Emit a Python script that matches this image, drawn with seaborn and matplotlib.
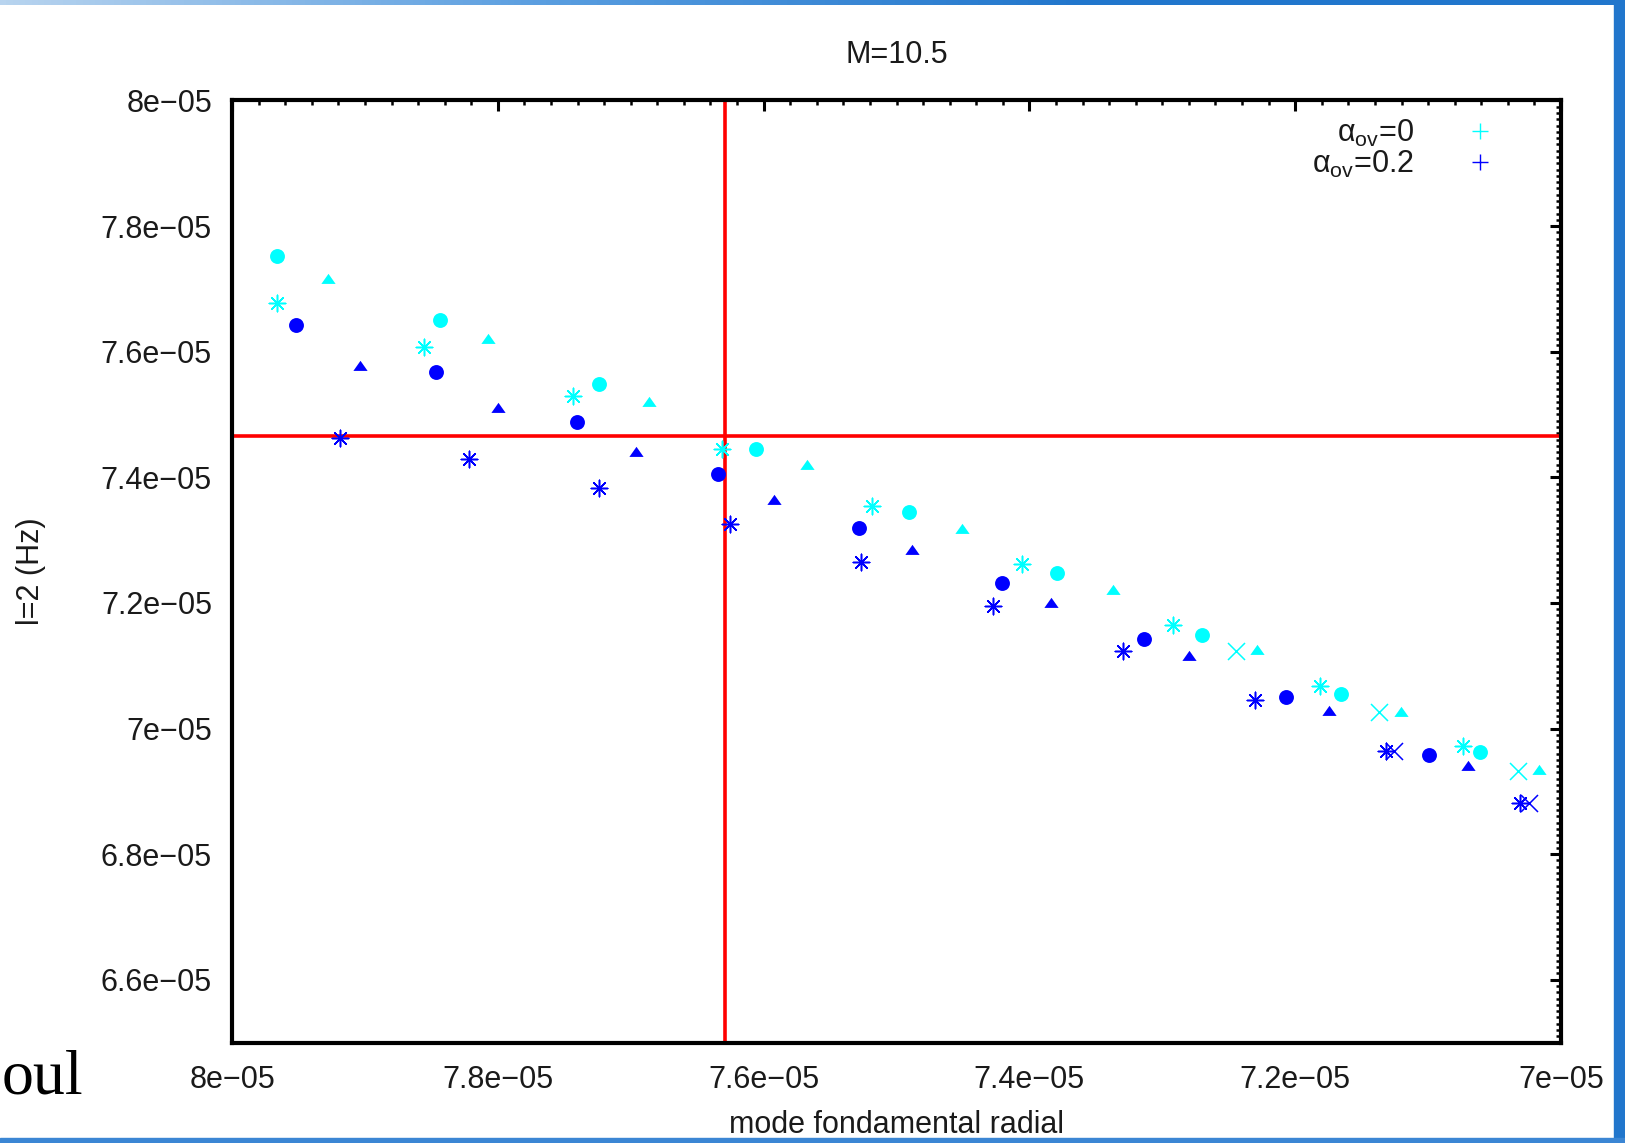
import numpy as np
import pandas as pd
import matplotlib
matplotlib.use("Agg")
import matplotlib.pyplot as plt
import seaborn as sns
from matplotlib.lines import Line2D
from matplotlib.patches import Rectangle
from matplotlib.colors import LinearSegmentedColormap
from matplotlib.ticker import MultipleLocator, FuncFormatter

##############################################
### DATA (frequencies in units of 1e-05 Hz) ##
##############################################

# alpha_ov = 0 (cyan)
cyan_circle_x = [7.9665, 7.8433, 7.7241, 7.6056, 7.4903, 7.3796, 7.2705, 7.1652, 7.0608]
cyan_circle_y = [7.7526, 7.6504, 7.5482, 7.4449, 7.3447, 7.2480, 7.1494, 7.0551, 6.9619]
cyan_tri_x = [7.9275, 7.8075, 7.6859, 7.5674, 7.4508, 7.3373, 7.2284, 7.1203, 7.0164]
cyan_tri_y = [7.7164, 7.6207, 7.5201, 7.4189, 7.3181, 7.2200, 7.1243, 7.0259, 6.9335]
cyan_ast_x = [7.9665, 7.8558, 7.7436, 7.6310, 7.5185, 7.4055, 7.2921, 7.1811, 7.0740]
cyan_ast_y = [7.6768, 7.6075, 7.5300, 7.4449, 7.3547, 7.2625, 7.1656, 7.0683, 6.9726]
cyan_cross_x = [7.2447, 7.1366, 7.0327]
cyan_cross_y = [7.1227, 7.0259, 6.9319]

# alpha_ov = 0.2 (blue)
blue_circle_x = [7.9517, 7.8465, 7.7405, 7.6345, 7.5284, 7.4209, 7.3141, 7.2069, 7.0990]
blue_circle_y = [7.6422, 7.5679, 7.4888, 7.4057, 7.3198, 7.2315, 7.1425, 7.0503, 6.9584]
blue_tri_x = [7.9034, 7.7997, 7.6960, 7.5924, 7.4887, 7.3841, 7.2798, 7.1748, 7.0702]
blue_tri_y = [7.5778, 7.5102, 7.4410, 7.3631, 7.2836, 7.1999, 7.1149, 7.0274, 6.9400]
blue_ast_x = [7.9189, 7.8215, 7.7241, 7.6256, 7.5267, 7.4275, 7.3292, 7.2299, 7.1317, 7.0312]
blue_ast_y = [7.4624, 7.4294, 7.3832, 7.3262, 7.2645, 7.1946, 7.1228, 7.0450, 6.9644, 6.8819]
blue_cross_x = [7.1255, 7.0242]
blue_cross_y = [6.9644, 6.8819]

# observed frequencies (red lines)
obs_radial = 7.629
obs_l2 = 7.4655

legend_labels = ["\u03b1$_{\\mathrm{ov}}$=0", "\u03b1$_{\\mathrm{ov}}$=0.2"]

##############################################
### BUILD TABLE ##############################
##############################################

series = [
    (0.0, "circle", cyan_circle_x, cyan_circle_y),
    (0.0, "triangle", cyan_tri_x, cyan_tri_y),
    (0.0, "asterisk", cyan_ast_x, cyan_ast_y),
    (0.0, "cross", cyan_cross_x, cyan_cross_y),
    (0.2, "circle", blue_circle_x, blue_circle_y),
    (0.2, "triangle", blue_tri_x, blue_tri_y),
    (0.2, "asterisk", blue_ast_x, blue_ast_y),
    (0.2, "cross", blue_cross_x, blue_cross_y),
]
rows = []
for a, kind, xs, ys in series:
    for xv, yv in zip(xs, ys):
        rows.append({"alpha_ov": a, "kind": kind, "radial": xv, "l2": yv})
df = pd.DataFrame(rows)

colors = {0.0: "#00ffff", 0.2: "#0000ff"}
markers = {
    "circle": ("o", 115, 0),
    "triangle": ([(-1, -0.62), (1, -0.62), (0, 0.8)], 105, 0),
    "asterisk": ((8, 2, 0), 140, 1.1),
    "cross": ("x", 150, 1.1),
}

##############################################
### PLOT #####################################
##############################################

sns.set_style("white")
plt.rcParams["font.family"] = ["Liberation Sans", "DejaVu Sans"]
plt.rcParams["mathtext.fontset"] = "custom"
plt.rcParams["mathtext.rm"] = "Liberation Sans"
plt.rcParams["mathtext.it"] = "Liberation Sans:italic"

fs = 22
txt = "#1a1a1a"
fig = plt.figure(figsize=(16.25, 11.43), dpi=100)
fig.patch.set_facecolor("white")
ax = fig.add_axes([0.1428, 0.0879, 0.8178, 0.8242])

for (a, kind), g in df.groupby(["alpha_ov", "kind"]):
    m, s, lw = markers[kind]
    if kind in ("circle", "triangle"):
        sns.scatterplot(data=g, x="radial", y="l2", marker=m, s=s, color=colors[a],
                        edgecolor=colors[a], linewidth=0, ax=ax, legend=False, zorder=3)
    else:
        ax.scatter(g["radial"], g["l2"], marker=m, s=s, color=colors[a],
                   linewidths=lw, zorder=3)

ax.axvline(obs_radial, color="#ff0000", lw=2.6, zorder=2)
ax.axhline(obs_l2, color="#ff0000", lw=2.6, zorder=2)

ax.set_xlim(8.0, 7.0)
ax.set_ylim(6.5, 8.0)

fmt = FuncFormatter(lambda v, p: f"{round(v, 3):g}e\u221205")
ax.xaxis.set_major_locator(MultipleLocator(0.2))
ax.xaxis.set_minor_locator(MultipleLocator(0.02))
ax.yaxis.set_major_locator(MultipleLocator(0.2))
ax.yaxis.set_minor_locator(MultipleLocator(0.01))
ax.xaxis.set_major_formatter(fmt)
ax.yaxis.set_major_formatter(fmt)

ax.tick_params(which="both", direction="in", top=True, right=True, colors="black")
ax.tick_params(which="major", length=8, width=2.2, labelsize=fs, labelcolor=txt)
ax.tick_params(which="minor", length=3.6, width=1.8)
ax.tick_params(axis="x", which="major", pad=16)
ax.tick_params(axis="y", which="major", pad=14.5)
for sp in ax.spines.values():
    sp.set_linewidth(3)
    sp.set_color("black")
    sp.set_visible(True)

ax.set_title("M=10.5", fontsize=fs, pad=27, color=txt)
ax.set_xlabel("mode fondamental radial", fontsize=fs, color=txt)
ax.set_ylabel("l=2 (Hz)", fontsize=fs, color=txt)
ax.xaxis.set_label_coords(0.5, -0.0964)
ax.xaxis.label.set_va("baseline")
ax.yaxis.set_label_coords(-0.151, 0.5)
ax.yaxis.label.set_va("center")

handles = [Line2D([], [], marker="+", color=colors[0.0], linestyle="none", markersize=12, markeredgewidth=1),
           Line2D([], [], marker="+", color=colors[0.2], linestyle="none", markersize=12, markeredgewidth=1)]
leg = ax.legend(handles, legend_labels, loc="upper right", bbox_to_anchor=(0.9503, 0.9815),
                markerfirst=False, frameon=False, fontsize=fs, handlelength=1.0,
                handletextpad=1.66, borderpad=0, borderaxespad=0, labelspacing=0.0)
for t in leg.get_texts():
    t.set_color(txt)

# slide frame around the screenshot
blue = "#2176cc"
grad = LinearSegmentedColormap.from_list("top", ["#b8d4ef", "#5a9ee0", blue, blue])
bax = fig.add_axes([0, 1 - 5 / 1143, 1, 5 / 1143])
bax.imshow(np.linspace(0, 1, 256)[None, :], aspect="auto", cmap=grad, extent=(0, 1, 0, 1))
bax.set_axis_off()
fig.add_artist(Rectangle((1 - 11 / 1625, 0), 11 / 1625, 1, transform=fig.transFigure,
                         color=blue, zorder=5))
fig.add_artist(Rectangle((0, 0), 1, 5 / 1143, transform=fig.transFigure,
                         color="#3b86d4", zorder=5))
fig.text(2 / 1625, 1 - 1093 / 1143, "oul", family="Liberation Serif", fontsize=46,
         ha="left", va="baseline", color="black")

fig.savefig("out.png", dpi=100)
